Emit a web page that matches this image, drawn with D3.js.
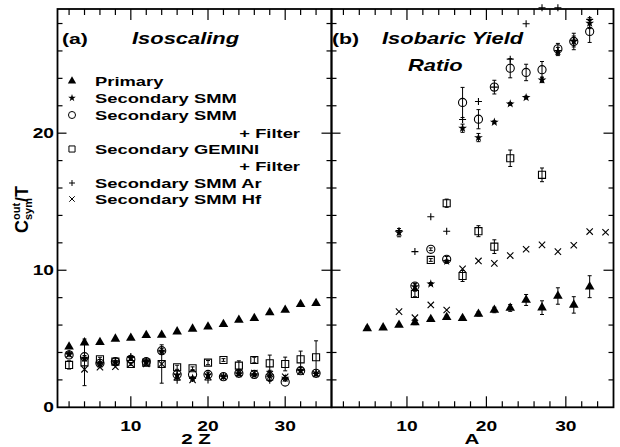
<!DOCTYPE html>
<html>
<head>
<meta charset="utf-8">
<script src="https://cdn.jsdelivr.net/npm/d3@7"></script>
<style>
  body { margin: 0; background: #fff; }
  text { font-family: "Liberation Sans", Arial, sans-serif; font-weight: bold; fill: #000; }
</style>
</head>
<body>
<svg id="drawing_region"></svg>
<script>
// ---- data: panel (a), x = 2Z ----
const zL = [2, 4, 6, 8, 10, 12, 14, 16, 18, 20, 22, 24, 26, 28, 30, 32, 34];
const primaryL = [4.42, 4.72, 4.74, 4.99, 5.06, 5.25, 5.27, 5.52, 5.72, 5.88, 6.06, 6.37, 6.50, 6.91, 7.10, 7.52, 7.59];
const smmL = [3.87, 3.58, 3.16, 3.26, 3.58, 3.33, 4.10, 2.36, 2.12, 2.36, 2.23, 2.43, 2.36, 2.30, 2.12, 2.67, 2.43];
const smmErrL = [0.1, 0.2, 0.1, 0.1, 0.1, 0.1, 0.2, 0.3, 0.1, 0.2, 0.1, 0.1, 0.1, 0.4, 0.2, 0.1, 0.1];
const smmFiltL = [3.82, 3.69, 3.21, 3.33, 3.50, 3.33, 4.13, 2.40, 2.40, 2.40, 2.23, 2.48, 2.40, 2.23, 1.84, 2.67, 2.48];
const geminiL = [3.09, 3.28, 3.50, 3.33, 3.16, 3.26, 3.16, 2.92, 2.85, 3.26, 3.45, 3.04, 3.45, 3.21, 3.16, 3.50, 3.65];
const geminiErrL = [0.3, 1.7, 0.15, 0.1, 0.1, 0.1, 1.4, 0.15, 0.1, 0.15, 0.1, 0.35, 0.2, 0.6, 0.5, 0.6, 1.2];
const arL = [3.90, 3.60, 3.30, 3.40, 3.70, 3.40, 4.05, 1.98, 2.10, 1.99, 2.27, 2.50, 2.43, 1.98, 2.10, 2.70, 2.48];
const hfL = [3.85, 2.77, 2.92, 2.96, 3.16, 3.16, 3.16, 2.23, 2.00, 2.23, 2.23, 2.50, 2.50, 2.43, 2.23, 2.60, 2.45];

// ---- data: panel (b), x = A ----
const aPrimR = [5, 7, 9, 11, 13, 15, 17, 19, 21, 23, 25, 27, 29, 31, 33];
const primaryR = [5.76, 5.81, 6.00, 6.18, 6.42, 6.57, 6.50, 6.81, 7.10, 7.25, 7.83, 7.27, 8.12, 7.47, 8.80];
const primaryErrR = [0.15, 0.1, 0.1, 0.15, 0.1, 0.15, 0.1, 0.15, 0.2, 0.25, 0.4, 0.5, 0.6, 0.6, 0.8];

const aHfR = [9, 11, 13, 15, 17, 19, 21, 23, 25, 27, 29, 31, 33, 35];
const hfR = [6.98, 6.54, 7.47, 7.10, 10.10, 10.68, 10.50, 11.07, 11.53, 11.85, 11.36, 11.82, 12.82, 12.77];

const aGemR = [11, 13, 15, 17, 19, 21, 23, 27];
const geminiR = [8.27, 10.75, 14.89, 9.58, 12.85, 11.72, 18.17, 16.96];
const geminiErrR = [0.2, 0.1, 0.3, 0.4, 0.4, 0.5, 0.6, 0.5];

const aFiltR = [11, 13, 15, 17, 19, 21, 23, 25, 27, 29, 31, 33];
const smmFiltR = [8.85, 11.53, 10.80, 22.24, 21.02, 23.36, 24.74, 24.43, 24.63, 26.15, 26.69, 27.42];
const smmFiltErrR = [0.2, 0.1, 0.2, 1.1, 0.7, 0.5, 0.7, 0.6, 0.6, 0.4, 0.6, 0.8];

const aSmmR = [9, 11, 13, 15, 17, 19, 21, 23, 25, 27, 29, 31, 33];
const smmR = [12.74, 8.80, 9.00, 10.65, 20.36, 19.68, 20.80, 22.14, 22.60, 23.89, 25.96, 26.69, 28.03];
const smmErrR = [0.3, 0.2, 0.1, 0.1, 0.3, 0.3, 0.1, 0.1, 0.1, 0.2, 0.3, 0.4, 0.4];

const aArR = [9, 11, 13, 15, 17, 19, 21, 23, 25, 27, 29, 31, 33];
const arR = [12.89, 11.36, 13.90, 12.85, 21.00, 22.31, 23.36, 25.40, 27.98, 29.15, 29.15, 26.80, 28.30];

const yTicks = [0, 10, 20];
const xTicks = [10, 20, 30];
const legendLabels = ["Primary", "Secondary SMM", "Secondary SMM", "Secondary GEMINI", "Secondary SMM Ar", "Secondary SMM Hf"];

// ---- layout ----
const W = 620, H = 447;
const yTop = 9, yBottom = 407.3;
const panels = [
    { left: 57.5, right: 331.5 },
    { left: 331.5, right: 613.5 }
];
const SX = 1.37;   // the original figure's text is stretched horizontally

const svg = d3.select('#drawing_region')
    .attr('width', W)
    .attr('height', H);

const yscale = d3.scaleLinear().domain([0, 29.06]).range([yBottom, yTop]);
panels.forEach(p => {
    p.xscale = d3.scaleLinear().domain([0.5, 36]).range([p.left, p.right]);
});

function label(x, y, str, size, anchor, italic) {
    return svg.append('text')
        .attr('transform', `translate(${x},${y}) scale(${SX},1)`)
        .attr('font-size', size)
        .attr('text-anchor', anchor || 'start')
        .attr('font-style', italic ? 'italic' : 'normal')
        .text(str);
}

const symbols = {
    tri:    { type: d3.symbolTriangle, size: 40, fill: '#000', stroke: 'none' },
    star:   { type: d3.symbolStar, size: 24, fill: '#000', stroke: 'none' },
    circle: { type: d3.symbolCircle, size: 52, fill: 'none', stroke: '#000' },
    square: { type: d3.symbolSquare, size: 50, fill: 'none', stroke: '#000' },
    plus:   { type: d3.symbolPlus, size: 18, fill: 'none', stroke: '#000' },
    times:  { type: d3.symbolTimes, size: 28, fill: 'none', stroke: '#000' }
};

function drawSeries(p, xs, ys, errs, sym) {
    const g = svg.append('g');
    const pts = xs.map((x, i) => ({ x: x, y: ys[i], e: errs ? errs[i] : 0 }));
    const s = symbols[sym];

    const eb = g.selectAll('g.err')
        .data(pts.filter(d => d.e > 0))
        .enter()
        .append('g');
    eb.append('line')
        .attr('x1', d => p.xscale(d.x)).attr('x2', d => p.xscale(d.x))
        .attr('y1', d => yscale(d.y - d.e)).attr('y2', d => yscale(d.y + d.e))
        .attr('stroke', '#000').attr('stroke-width', 1);
    [-1, 1].forEach(k => {
        eb.append('line')
            .attr('x1', d => p.xscale(d.x) - 2).attr('x2', d => p.xscale(d.x) + 2)
            .attr('y1', d => yscale(d.y + k * d.e)).attr('y2', d => yscale(d.y + k * d.e))
            .attr('stroke', '#000').attr('stroke-width', 1);
    });

    g.selectAll('path')
        .data(pts)
        .enter()
        .append('path')
        .attr('transform', d => `translate(${p.xscale(d.x)},${yscale(d.y)})`)
        .attr('d', d3.symbol().type(s.type).size(s.size))
        .attr('fill', s.fill)
        .attr('stroke', s.stroke)
        .attr('stroke-width', 1.1);
}

// ---- frames and ticks ----
const minorX = d3.range(2, 35, 2);
const minorY = d3.range(2, 29, 2);

panels.forEach((p, k) => {
    const g = svg.append('g');
    const xt = g.selectAll('.xt')
        .data(minorX)
        .enter();
    xt.append('line')
        .attr('x1', d => p.xscale(d)).attr('x2', d => p.xscale(d))
        .attr('y1', yBottom).attr('y2', d => yBottom - (d % 10 === 0 ? 11 : 6))
        .attr('stroke', '#000').attr('stroke-width', 1.2);
    xt.append('line')
        .attr('x1', d => p.xscale(d)).attr('x2', d => p.xscale(d))
        .attr('y1', yTop).attr('y2', d => yTop + (d % 10 === 0 ? 11 : 6))
        .attr('stroke', '#000').attr('stroke-width', 1.2);

    const yt = g.selectAll('.yt')
        .data(minorY)
        .enter();
    yt.append('line')
        .attr('x1', p.left).attr('x2', d => p.left + (d % 10 === 0 ? 9 : 5))
        .attr('y1', d => yscale(d)).attr('y2', d => yscale(d))
        .attr('stroke', '#000').attr('stroke-width', 1.2);
    yt.append('line')
        .attr('x1', p.right).attr('x2', d => p.right - (d % 10 === 0 ? 10 : 5))
        .attr('y1', d => yscale(d)).attr('y2', d => yscale(d))
        .attr('stroke', '#000').attr('stroke-width', 1.2);

    g.append('rect')
        .attr('x', p.left).attr('y', yTop)
        .attr('width', p.right - p.left).attr('height', yBottom - yTop)
        .attr('fill', 'none').attr('stroke', '#000').attr('stroke-width', 1.8);

    xTicks.forEach(t => label(p.xscale(t), 431, t, 14, 'middle'));
});

yTicks.forEach(t => label(54, yscale(t) + 5, t, 14, 'end'));

// ---- axis titles ----
label(196, 444, '2 Z', 15, 'middle');
label(472, 444, 'A', 15, 'middle');

const ylab = svg.append('g').attr('transform', 'translate(28,208) rotate(-90)');
ylab.append('text').attr('x', -25).attr('y', 0).attr('font-size', 18).text('C');
ylab.append('text').attr('x', -12).attr('y', -8).attr('font-size', 11).text('out');
ylab.append('text').attr('x', -12).attr('y', 4).attr('font-size', 11).text('sym');
ylab.append('text').attr('x', 6).attr('y', 0).attr('font-size', 18).text('/T');

// ---- panel titles ----
label(62, 44, '(a)', 15.5);
label(132, 44, 'Isoscaling', 16, 'start', true);
label(332, 44, '(b)', 15.5);
label(382, 44, 'Isobaric Yield', 16, 'start', true);
label(408, 71, 'Ratio', 16, 'start', true);

// ---- series ----
const pa = panels[0], pb = panels[1];
drawSeries(pa, zL, geminiL, geminiErrL, 'square');
drawSeries(pa, zL, smmFiltL, null, 'circle');
drawSeries(pa, zL, hfL, null, 'times');
drawSeries(pa, zL, arL, null, 'plus');
drawSeries(pa, zL, smmL, smmErrL, 'star');
drawSeries(pa, zL, primaryL, null, 'tri');

drawSeries(pb, aGemR, geminiR, geminiErrR, 'square');
drawSeries(pb, aFiltR, smmFiltR, smmFiltErrR, 'circle');
drawSeries(pb, aHfR, hfR, null, 'times');
drawSeries(pb, aArR, arR, null, 'plus');
drawSeries(pb, aSmmR, smmR, smmErrR, 'star');
drawSeries(pb, aPrimR, primaryR, primaryErrR, 'tri');

// ---- legend ----
const legSyms = ['tri', 'star', 'circle', 'square', 'plus', 'times'];
const legRows = [81, 98, 115, 149, 183, 199];
legSyms.forEach((s, i) => {
    const sy = symbols[s];
    svg.append('path')
        .attr('transform', `translate(72,${legRows[i]})`)
        .attr('d', d3.symbol().type(sy.type).size(sy.size * 0.75))
        .attr('fill', sy.fill).attr('stroke', sy.stroke).attr('stroke-width', 1);
    label(95, legRows[i] + 5, legendLabels[i], 13.4);
});
label(300, 138, '+ Filter', 13.4, 'end');
label(300, 171, '+ Filter', 13.4, 'end');
</script>
</body>
</html>
